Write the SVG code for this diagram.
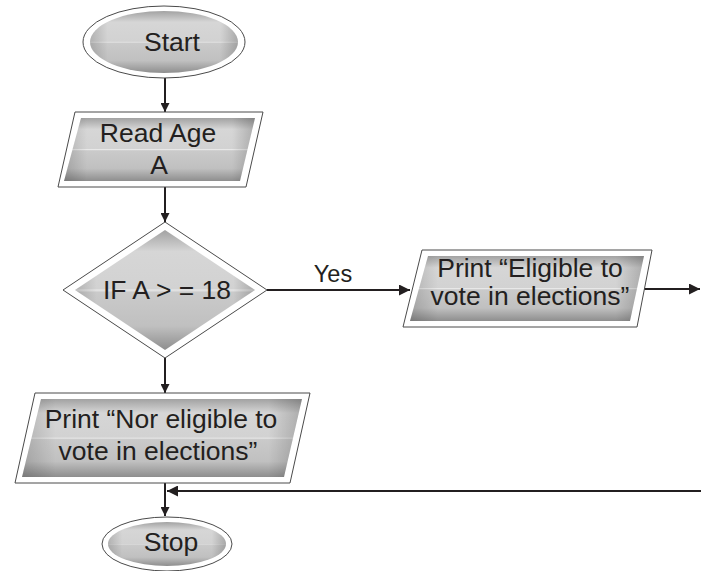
<svg xmlns="http://www.w3.org/2000/svg" width="701" height="571" viewBox="0 0 701 571">
<defs>
<style>
.outer{fill:#ffffff;stroke:#4a4a4a;stroke-width:1}
.t{font-family:"Liberation Sans",Arial,sans-serif;font-size:26.5px;fill:#231f20;text-anchor:middle}
.c{stroke:#231f20;stroke-width:2;fill:none}
</style>
<linearGradient id="g" x1="0" y1="0" x2="0" y2="1">
<stop offset="0" stop-color="#a2a2a2"/>
<stop offset="0.18" stop-color="#d6d6d6"/>
<stop offset="0.49" stop-color="#d2d2d2"/>
<stop offset="0.5" stop-color="#e8e8e8"/>
<stop offset="0.52" stop-color="#cacaca"/>
<stop offset="0.8" stop-color="#c0c0c0"/>
<stop offset="1" stop-color="#8e8e8e"/>
</linearGradient>
<linearGradient id="gh" x1="0" y1="0" x2="1" y2="0">
<stop offset="0" stop-color="#000" stop-opacity="0.16"/>
<stop offset="0.12" stop-color="#000" stop-opacity="0"/>
<stop offset="0.88" stop-color="#000" stop-opacity="0"/>
<stop offset="1" stop-color="#000" stop-opacity="0.2"/>
</linearGradient>
<marker id="ah" viewBox="0 0 10 10" refX="10" refY="5" markerWidth="9" markerHeight="9" markerUnits="userSpaceOnUse" orient="auto">
<path d="M0,0 L10,5 L0,10 z" fill="#231f20"/>
</marker>
<marker id="ahw" viewBox="0 0 10 10" refX="10" refY="5" markerWidth="11" markerHeight="11" markerUnits="userSpaceOnUse" orient="auto">
<path d="M0,0 L10,5 L0,10 z" fill="#231f20"/>
</marker>
</defs>
<rect width="701" height="571" fill="#ffffff"/>
<g id="connectors">
<line class="c" x1="165" y1="78" x2="165" y2="112" marker-end="url(#ah)"/>
<line class="c" x1="165" y1="187" x2="165" y2="222" marker-end="url(#ah)"/>
<line class="c" x1="267" y1="290" x2="410" y2="290" marker-end="url(#ahw)"/>
<text x="333" y="282" style="font-family:'Liberation Sans',Arial,sans-serif;font-size:23.5px;fill:#231f20" text-anchor="middle">Yes</text>
<line class="c" x1="644" y1="289" x2="700" y2="289" marker-end="url(#ahw)"/>
<line class="c" x1="165" y1="358" x2="165" y2="393" marker-end="url(#ah)"/>
<line class="c" x1="165" y1="483" x2="165" y2="516" marker-end="url(#ah)"/>
<line class="c" x1="701" y1="491" x2="167" y2="491" marker-end="url(#ahw)"/>
</g>
<g id="start">
<ellipse class="outer" cx="164" cy="42" rx="81" ry="36"/>
<ellipse cx="164" cy="42" rx="74" ry="31" fill="url(#g)"/>
<ellipse cx="164" cy="42" rx="74" ry="31" fill="url(#gh)"/>
<text class="t" x="172" y="51" font-size="28">Start</text>
</g>
<g id="read">
<polygon class="outer" points="75,112 263,112 246,187 58,187"/>
<polygon points="81,118 255,118 240,181 64,181" fill="url(#g)"/>
<polygon points="81,118 255,118 240,181 64,181" fill="url(#gh)"/>
<text class="t" x="158" y="142">Read Age</text>
<text class="t" x="159" y="174">A</text>
</g>
<g id="decision">
<polygon class="outer" points="165,222 267,290 165,358 63,290"/>
<polygon points="165,230 255,290 165,350 75,290" fill="url(#g)"/>
<polygon points="165,230 255,290 165,350 75,290" fill="url(#gh)"/>
<text class="t" x="167" y="299">IF A &gt; = 18</text>
</g>
<g id="eligible">
<polygon class="outer" points="422,250 652,250 637,327 403,327"/>
<polygon points="428,256 644,256 630,321 410,321" fill="url(#g)"/>
<polygon points="428,256 644,256 630,321 410,321" fill="url(#gh)"/>
<text class="t" x="530" y="277">Print “Eligible to</text>
<text class="t" x="530" y="305">vote in elections”</text>
</g>
<g id="noteligible">
<polygon class="outer" points="35,393 310,393 290,483 15,483"/>
<polygon points="41,399 302,399 284,477 22,477" fill="url(#g)"/>
<polygon points="41,399 302,399 284,477 22,477" fill="url(#gh)"/>
<text class="t" x="161" y="428" font-size="27">Print “Nor eligible to</text>
<text class="t" x="158" y="460" font-size="27">vote in elections”</text>
</g>
<g id="stop">
<ellipse class="outer" cx="167" cy="544" rx="65" ry="27"/>
<ellipse cx="167" cy="544" rx="59" ry="22" fill="url(#g)"/>
<ellipse cx="167" cy="544" rx="59" ry="22" fill="url(#gh)"/>
<text class="t" x="171" y="551" font-size="25">Stop</text>
</g>
</svg>
